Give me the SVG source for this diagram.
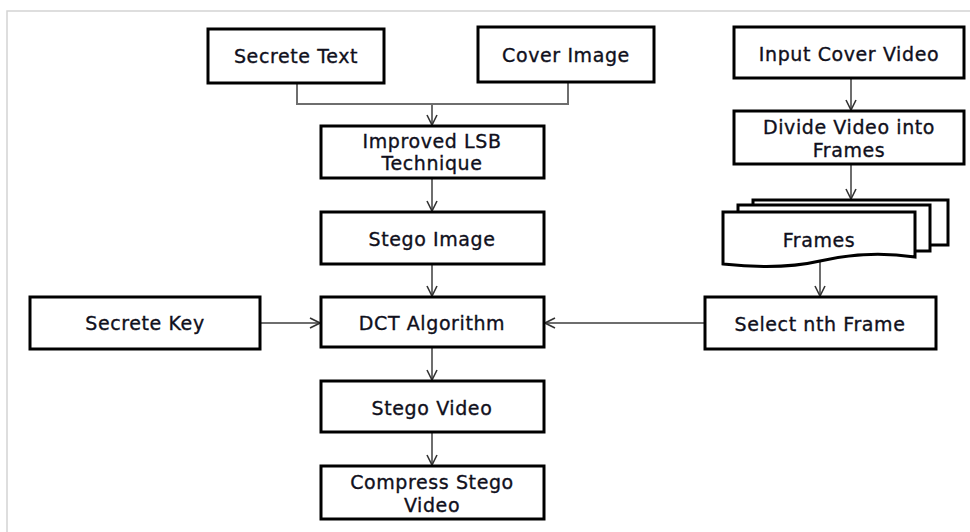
<svg xmlns="http://www.w3.org/2000/svg" width="970" height="532" viewBox="0 0 970 532">
<style>
.box{fill:#fff;stroke:#000;stroke-width:3}
.t{font-family:"DejaVu Sans","Liberation Sans",sans-serif;font-size:19px;letter-spacing:0.6px;fill:#10101c;stroke:#10101c;stroke-width:0.35;text-anchor:middle}
.c{fill:none;stroke:#6e6e6e;stroke-width:2}
</style>
<defs>
<marker id="a" viewBox="0 0 12 12" refX="11" refY="6" markerWidth="12" markerHeight="12" markerUnits="userSpaceOnUse" orient="auto">
<path d="M1,1 L11,6 L1,11" fill="none" stroke="#333" stroke-width="1.6"/>
</marker>
</defs>
<rect width="970" height="532" fill="#fff"/>
<rect x="7" y="11" width="975" height="540" fill="none" stroke="#d4d4d4" stroke-width="1.5"/>
<g id="connectors">
<path class="c" d="M297,83 V104 H568 V82"/>
<path class="c" d="M432,104 V125" marker-end="url(#a)"/>
<path class="c" d="M432,178 V211" marker-end="url(#a)"/>
<path class="c" d="M432,264 V296" marker-end="url(#a)"/>
<path class="c" d="M432,347 V380" marker-end="url(#a)"/>
<path class="c" d="M432,432 V465" marker-end="url(#a)"/>
<path class="c" d="M851,78 V110" marker-end="url(#a)"/>
<path class="c" d="M851,164 V199" marker-end="url(#a)"/>
<path class="c" d="M820,262 V296" marker-end="url(#a)"/>
<path class="c" d="M260,323 H320" marker-end="url(#a)"/>
<path class="c" d="M705,323 H545" marker-end="url(#a)"/>
</g>
<g id="secrete-text"><rect class="box" x="208" y="29" width="176" height="54"/><text class="t" x="296" y="63">Secrete Text</text></g>
<g id="cover-image"><rect class="box" x="478" y="27" width="176" height="55"/><text class="t" x="566" y="62">Cover Image</text></g>
<g id="input-cover-video"><rect class="box" x="734" y="27" width="230" height="51"/><text class="t" x="849" y="61">Input Cover Video</text></g>
<g id="divide-video"><rect class="box" x="734" y="111" width="230" height="53"/><text class="t" x="849" y="134">Divide Video into</text><text class="t" x="849" y="157">Frames</text></g>
<g id="frames">
<rect class="box" x="753" y="200" width="195" height="45"/>
<rect class="box" x="738" y="205" width="192" height="46"/>
<path class="box" d="M723,212 H915 V257 C880,252 850,254 820,261 C790,268 760,268 723,264 Z"/>
<text class="t" x="819" y="247">Frames</text>
</g>
<g id="improved-lsb"><rect class="box" x="321" y="126" width="223" height="52"/><text class="t" x="432" y="148">Improved LSB</text><text class="t" x="432" y="170">Technique</text></g>
<g id="stego-image"><rect class="box" x="321" y="212" width="223" height="52"/><text class="t" x="432" y="246">Stego Image</text></g>
<g id="secrete-key"><rect class="box" x="30" y="297" width="230" height="52"/><text class="t" x="145" y="330">Secrete Key</text></g>
<g id="dct"><rect class="box" x="321" y="297" width="223" height="50"/><text class="t" x="432" y="330">DCT Algorithm</text></g>
<g id="select-nth"><rect class="box" x="705" y="297" width="231" height="52"/><text class="t" x="820" y="331">Select nth Frame</text></g>
<g id="stego-video"><rect class="box" x="321" y="381" width="223" height="51"/><text class="t" x="432" y="415">Stego Video</text></g>
<g id="compress"><rect class="box" x="321" y="466" width="223" height="53"/><text class="t" x="432" y="489">Compress Stego</text><text class="t" x="432" y="512">Video</text></g>
</svg>
